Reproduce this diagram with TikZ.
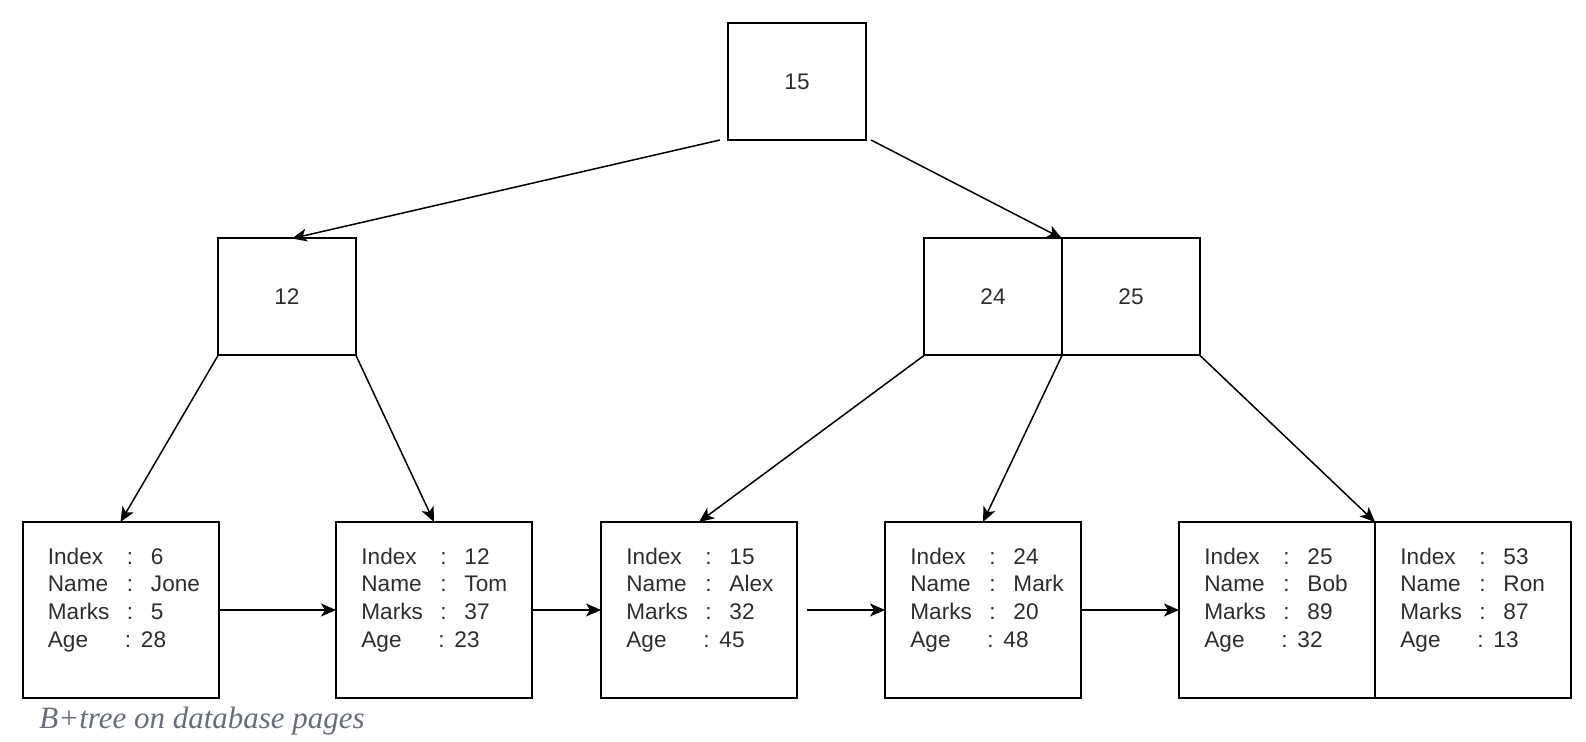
\documentclass[tikz,border=0pt]{standalone}
\usepackage{fontspec}
\setmainfont{Liberation Sans}
\newfontfamily\capfont{Liberation Serif}
\usetikzlibrary{positioning,arrows.meta}
\definecolor{txtgray}{RGB}{45,45,45}
\definecolor{capgray}{RGB}{104,110,120}

% one field of a record page
\newcommand{\fld}[2]{\makebox[39.5pt][l]{#1}:\hspace{8.9pt}#2}
\newcommand{\agefld}[1]{\makebox[38.5pt][l]{Age}:\hspace{4.9pt}#1}
\newcommand{\rec}[4]{\fld{Index}{#1}\\\fld{Name}{#2}\\\fld{Marks}{#3}\\\agefld{#4}}

\begin{document}
\begin{tikzpicture}[
  x=0.5pt, y=-0.5pt,
  font=\fontsize{11.3}{13.8}\selectfont,
  >={Stealth[length=7.5pt, width=6.5pt, inset=2pt]},
  keybox/.style={draw=black, line width=1pt, outer sep=0pt, inner sep=0pt,
                 minimum width=69pt, minimum height=58.5pt, text=txtgray},
  pagebox/.style={draw=black, line width=1pt, outer sep=0pt, inner sep=0pt,
                  minimum width=98pt, minimum height=88pt},
  recs/.style={anchor=north west, align=left, inner sep=0pt, text=txtgray},
  link/.style={->, line width=0.75pt},
]
\useasboundingbox (0,0) rectangle (1586,742);

% ---- index nodes ----
\node[keybox] (root) at (797,81.5) {15};
\node[keybox] (k12) at (287,297) {12};
\node[keybox] (k24) at (993,297) {24};
\node[keybox, right=0pt of k24] (k25) {25};

% ---- leaf pages ----
\node[pagebox] (p1) at (120.5,610) {};
\node[pagebox] (p2) at (434,610) {};
\node[pagebox] (p3) at (699,610) {};
\node[pagebox] (p4) at (983,610) {};
\node[pagebox] (p5) at (1277,610) {};
\node[pagebox, right=0pt of p5] (p6) {};

\foreach \p/\i/\n/\m/\a in {p1/6/Jone/5/28, p2/12/Tom/37/23, p3/15/Alex/32/45,
                             p4/24/Mark/20/48, p5/25/Bob/89/32, p6/53/Ron/87/13}
  \node[recs] (\p-txt) at ([xshift=12.5pt, yshift=-12.8pt]\p.north west) {\rec{\i}{\n}{\m}{\a}};

% ---- tree links ----
\draw[link] ([xshift=-4pt]root.south west) -- ([xshift=2.5pt]k12.north);
\draw[link] ([xshift=2.5pt]root.south east) -- (k24.north east);
\draw[link] (k12.south west) -- (p1.north);
\draw[link] (k12.south east) -- (p2.north);
\draw[link] (k24.south west) -- (p3.north);
\draw[link] (k24.south east) -- (p4.north);
\draw[link] (k25.south east) -- (p5.north east);

% ---- leaf chain ----
\draw[link] (p1) -- (p2);
\draw[link] (p2) -- (p3);
\draw[link] ([xshift=5pt]p3.east) -- (p4.west);
\draw[link] (p4) -- (p5);

% ---- caption ----
\node[anchor=base west, inner sep=0pt, text=capgray,
      font={\capfont\itshape\fontsize{15.5}{18.5}\selectfont}] (cap) at (39,729)
  {B+tree on database pages};

\end{tikzpicture}
\end{document}
